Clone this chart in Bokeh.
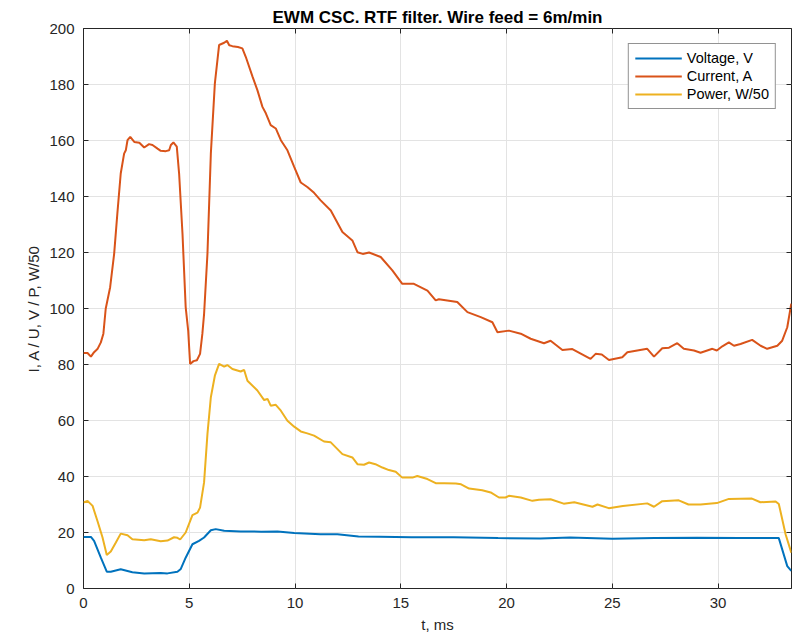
from bokeh.plotting import figure
from bokeh.models import Range1d, LinearAxis, FixedTicker, Legend, LegendItem
from bokeh.embed import file_html
from bokeh.resources import INLINE

# ---- data ----
t_current = [0, 0.19, 0.35, 0.5, 0.66, 0.82, 0.94, 1.05, 1.26, 1.45, 1.6, 1.76, 1.92, 2.0, 2.08, 2.21, 2.4,
             2.64, 2.87, 3.1, 3.26, 3.5, 3.65, 3.89, 4.05, 4.13, 4.25, 4.41, 4.52, 4.68, 4.83, 4.95, 5.04,
             5.2, 5.36, 5.51, 5.62, 5.70, 5.86, 6.02, 6.21, 6.41, 6.65, 6.78, 6.89, 7.04, 7.3, 7.51, 7.67,
             7.99, 8.22, 8.46, 8.62, 8.85, 9.09, 9.33, 9.64, 9.96, 10.27, 10.58, 10.9, 11.2, 11.69, 12.24,
             12.71, 12.95, 13.2, 13.5, 14.05, 14.6, 15.07, 15.62, 16.26, 16.65, 16.8, 17.67, 18.15, 18.78,
             19.33, 19.57, 20.11, 20.67, 21.14, 21.77, 22.08, 22.64, 23.11, 23.97, 24.21, 24.5, 24.84,
             25.47, 25.71, 26.65, 26.97, 27.36, 27.68, 28.07, 28.38, 28.86, 29.17, 29.73, 29.94, 30.2,
             30.51, 30.75, 31.06, 31.61, 32.01, 32.32, 32.8, 33.03, 33.27, 33.46]
current = [84.1, 84.1, 82.8, 84.4, 85.5, 87.9, 91, 99.9, 107.6, 119.6, 133.9, 148.2, 155.3, 156.5, 160.1,
           161.3, 159.5, 159.2, 157.5, 158.7, 158.4, 157.1, 156.3, 156.2, 156.5, 158.4, 159.3, 157.8, 148.2,
           126.7, 100.5, 92, 80.2, 81.2, 81.5, 83.8, 91, 98, 119.6, 155.3, 180.4, 194.1, 194.9, 195.6, 194,
           193.7, 193.4, 192.9, 189.9, 182.8, 178, 172, 169.7, 165.5, 164.3, 160.1, 156.5, 150.6, 145,
           143.4, 141.3, 138.7, 135, 127.3, 124.3, 120.1, 119.5, 120, 118.4, 113.6, 108.8, 108.8, 106.4,
           102.9, 103.3, 102.3, 98.7, 96.9, 95.1, 91.5, 92.1, 91, 89.2, 87.6, 88.5, 85.2, 85.5, 82, 83.8,
           83.6, 81.6, 82.6, 84.4, 85.6, 82.8, 85.8, 86, 87.6, 85.6, 85, 84.2, 85.6, 85, 86.5, 87.9, 86.7,
           87.3, 88.8, 86.7, 85.6, 86.7, 88.5, 93.3, 101.7]

t_power = [0, 0.19, 0.43, 0.66, 0.9, 1.1, 1.29, 1.53, 1.76, 2.08, 2.31, 2.87, 3.18, 3.65, 3.97, 4.28, 4.44,
           4.57, 4.83, 5.15, 5.39, 5.51, 5.70, 5.86, 6.02, 6.21, 6.41, 6.65, 6.8, 7.04, 7.43, 7.59, 7.75,
           8.22, 8.54, 8.7, 8.85, 9.09, 9.33, 9.64, 9.96, 10.27, 10.58, 10.9, 11.37, 11.69, 12.24, 12.71,
           12.95, 13.26, 13.5, 13.8, 14.13, 14.44, 14.76, 15.07, 15.55, 15.78, 16.26, 16.65, 17.05, 17.6,
           17.85, 18.23, 18.85, 19.25, 19.64, 19.95, 20.11, 20.67, 21.22, 21.53, 22.08, 22.7, 23.2, 24.06,
           24.3, 24.83, 25.5, 26.65, 26.97, 27.36, 28.14, 28.6, 29.17, 29.94, 30.51, 31.6, 32.0, 32.72,
           32.87, 33.19, 33.46]
power = [30.7, 31.3, 29.5, 24.1, 18.2, 12.0, 13.2, 16.4, 19.6, 19, 17.6, 17.2, 17.6, 16.9, 17.1, 18.3, 18.1,
         17.5, 20, 26.2, 27.1, 28.9, 37.9, 55.2, 68.3, 76, 80.2, 79.2, 79.8, 78.4, 77.5, 78.1, 74.2, 70.7,
         67.3, 67.7, 65.3, 65.6, 63.5, 59.9, 57.8, 56.1, 55.4, 54.6, 52.5, 52.2, 48.0, 46.8, 44.4, 44.2, 45.0,
         44.4, 43.2, 42.3, 41.7, 39.6, 39.6, 40.2, 39.1, 37.6, 37.6, 37.5, 37.2, 35.7, 35.1, 34.3, 32.5, 32.5,
         33.1, 32.5, 31.3, 31.7, 31.9, 30.3, 30.8, 29.2, 30, 28.7, 29.5, 30.4, 29.2, 31.2, 31.5, 30, 30, 30.5,
         32, 32.1, 30.8, 31.1, 30.2, 19.4, 12.8]

t_voltage = [0, 0.35, 0.5, 0.82, 1.1, 1.29, 1.76, 2.31, 2.87, 3.65, 3.97, 4.44, 4.6, 4.83, 5.15, 5.46, 5.7,
             6.02, 6.25, 6.65, 7.43, 8.4, 9.17, 9.96, 11.2, 12.0, 13.0, 14.0, 15.5, 17.5, 19.6, 21.6, 23.0,
             25.0, 27.0, 29.0, 31.0, 32.87, 33.27, 33.46]
voltage = [18.4, 18.4, 17.0, 11, 6.0, 6.0, 6.9, 5.8, 5.4, 5.5, 5.4, 6.0, 7, 11, 15.8, 17, 18.2, 20.8, 21.2,
           20.6, 20.4, 20.3, 20.4, 19.8, 19.4, 19.4, 18.6, 18.5, 18.3, 18.3, 18.0, 17.9, 18.2, 17.8, 18.0,
           18.1, 18.0, 18.0, 8.0, 6.3]

series_names = ["Voltage, V", "Current, A", "Power, W/50"]
series_colors = ["#0072BD", "#D95319", "#EDB120"]
x_ticks = [0, 5, 10, 15, 20, 25, 30]
y_ticks = [0, 20, 40, 60, 80, 100, 120, 140, 160, 180, 200]

FONT = "Liberation Sans"
AX = "#262626"

p = figure(width=792, height=637, output_backend="svg", toolbar_location=None,
           x_range=Range1d(0, 33.47), y_range=Range1d(0, 200),
           title="EWM CSC. RTF filter. Wire feed = 6m/min",
           min_border_left=83, min_border_right=1, min_border_top=28, min_border_bottom=49)
p.title.align = "center"
p.title.text_font = FONT
p.title.text_font_size = "17px"
p.title.text_font_style = "bold"
p.title.text_color = "#000000"
p.title.standoff = 4

p.outline_line_color = AX
p.outline_line_width = 1
p.background_fill_color = "white"
p.border_fill_color = "white"

for ax in (p.xaxis[0], p.yaxis[0]):
    ax.major_tick_in = 5
    ax.major_tick_out = 0
    ax.minor_tick_line_color = None
    ax.axis_line_color = None
    ax.major_tick_line_color = AX
    ax.major_label_text_font = FONT
    ax.major_label_text_font_size = "15px"
    ax.major_label_text_color = AX
    ax.axis_label_text_font = FONT
    ax.axis_label_text_font_size = "15px"
    ax.axis_label_text_font_style = "normal"
    ax.axis_label_text_color = AX

p.xaxis[0].ticker = FixedTicker(ticks=x_ticks)
p.yaxis[0].ticker = FixedTicker(ticks=y_ticks)
p.xaxis[0].axis_label = "t, ms"
p.yaxis[0].axis_label = "I, A / U, V / P, W/50"
p.xaxis[0].major_label_standoff = 9
p.yaxis[0].major_label_standoff = 9
p.xaxis[0].axis_label_standoff = 5
p.yaxis[0].axis_label_standoff = 4

# mirrored ticks on top and right (box on)
top = LinearAxis(ticker=FixedTicker(ticks=x_ticks), major_tick_in=5, major_tick_out=0,
                 minor_tick_line_color=None, axis_line_color=None, major_tick_line_color=AX,
                 major_label_text_color=None, major_label_text_font_size="0px", major_label_standoff=0)
right = LinearAxis(ticker=FixedTicker(ticks=y_ticks), major_tick_in=5, major_tick_out=0,
                   minor_tick_line_color=None, axis_line_color=None, major_tick_line_color=AX,
                   major_label_text_color=None, major_label_text_font_size="0px", major_label_standoff=0)
p.add_layout(top, "above")
p.add_layout(right, "right")

p.xgrid.ticker = FixedTicker(ticks=x_ticks)
p.ygrid.ticker = FixedTicker(ticks=y_ticks)
p.xgrid.grid_line_color = "#e3e3e3"
p.ygrid.grid_line_color = "#e3e3e3"

r_v = p.line(t_voltage, voltage, line_color=series_colors[0], line_width=2)
r_c = p.line(t_current, current, line_color=series_colors[1], line_width=2)
r_p = p.line(t_power, power, line_color=series_colors[2], line_width=2)

legend = Legend(items=[LegendItem(label=series_names[0], renderers=[r_v]),
                       LegendItem(label=series_names[1], renderers=[r_c]),
                       LegendItem(label=series_names[2], renderers=[r_p])],
                location="top_right", margin=15, padding=6, spacing=2,
                glyph_width=47, glyph_height=16, label_height=16, label_standoff=5,
                label_text_font=FONT, label_text_font_size="14.5px", label_text_color="#000000",
                border_line_color=AX, border_line_width=1, background_fill_color="white",
                background_fill_alpha=1)
p.add_layout(legend, "center")

open("out.html", "w").write(file_html(p, INLINE))
